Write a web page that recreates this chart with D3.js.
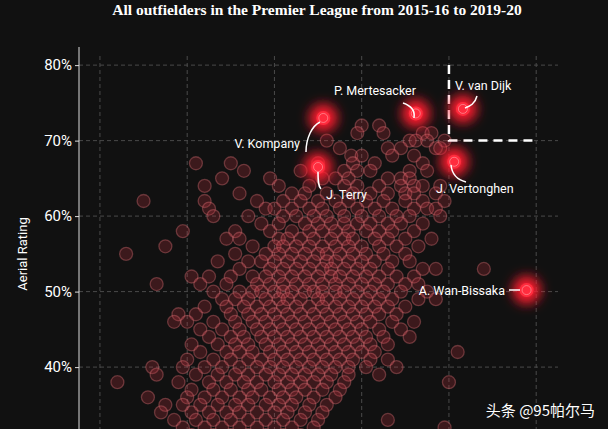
<!DOCTYPE html>
<html><head><meta charset="utf-8">
<script src="https://cdn.jsdelivr.net/npm/d3@7"></script>
<style>body{margin:0;background:#111;}svg{display:block}</style>
</head><body><svg id="c" width="608" height="429"></svg>
<script>
const title = "All outfielders in the Premier League from 2015-16 to 2019-20";
const yTicks = [40, 50, 60, 70, 80];
const xGrid = [1, 2, 3, 4, 5, 6];
// rows: aerial rating (%) -> x positions of players
const rowY = [72,71,70,69,68,67,66,65,64,63,62,61,60,59,58,57,56,55,54,53,52,51,50,49,48,47,46,45,44,43,42,41,40,39,38,37,36,35,34,33,32,31];
const rowX = [
[4.0,4.2],
[3.95,4.25,4.7,4.8],
[3.6,4.55,4.62,4.95,4.75],
[3.75,4.45,4.3,4.85,4.9],
[3.88,4.0,4.35,4.6],
[2.1,2.5,3.5,3.9,4.15,4.7],
[2.65,3.3,3.8,3.95,4.1,4.55,4.75],
[2.4,2.95,3.55,3.7,3.85,4.3,4.45,4.55],
[2.2,3.05,3.4,3.8,3.95,4.2,4.45,4.6,4.7,4.9],
[2.6,3.2,3.35,3.6,3.9,4.1,4.3,4.5,4.6,4.85],
[1.5,2.2,2.8,3.1,3.3,3.5,3.7,3.85,4.05,4.25,4.5,4.7,4.95],
[2.25,2.9,3.0,3.2,3.4,3.55,3.75,3.95,4.15,4.35,4.6,4.75,4.85],
[2.3,2.7,3.1,3.25,3.45,3.6,3.8,4.0,4.2,4.4,4.55,4.9],
[2.85,3.05,3.35,3.5,3.65,3.8,3.95,4.1,4.3,4.45,4.7],
[1.95,2.55,2.95,3.2,3.4,3.55,3.7,3.85,4.05,4.2,4.35,4.6],
[2.45,2.6,3.05,3.15,3.3,3.45,3.65,3.8,3.9,4.15,4.3,4.5,4.8],
[1.75,2.75,3.0,3.1,3.25,3.4,3.55,3.7,3.85,4.0,4.2,4.4,4.65],
[1.3,2.55,2.9,3.05,3.2,3.35,3.5,3.6,3.75,3.9,4.05,4.25,4.5],
[2.35,2.7,2.85,3.0,3.15,3.3,3.45,3.6,3.7,3.85,4.0,4.15,4.35,4.55],
[2.6,2.95,3.1,3.25,3.4,3.55,3.65,3.8,3.95,4.1,4.3,4.7,4.85,5.4],
[2.05,2.25,2.5,2.75,2.9,3.05,3.2,3.35,3.5,3.65,3.75,3.9,4.05,4.2,4.4,4.6],
[1.65,2.15,2.45,2.8,2.95,3.1,3.25,3.4,3.55,3.7,3.85,4.0,4.15,4.3,4.5,4.65],
[2.3,2.6,2.75,2.85,3.0,3.1,3.2,3.35,3.45,3.55,3.7,3.8,3.95,4.1,4.25,4.45,4.75],
[2.4,2.55,2.7,2.9,3.05,3.15,3.3,3.5,3.6,3.75,3.9,4.05,4.2,4.35,4.65,4.85],
[2.2,2.45,2.65,2.8,2.95,3.1,3.25,3.4,3.55,3.7,3.85,4.0,4.15,4.3,4.5],
[1.9,2.1,2.5,2.7,2.85,3.0,3.15,3.3,3.45,3.6,3.75,3.9,4.05,4.2,4.4],
[1.85,2.0,2.3,2.55,2.75,2.9,3.05,3.2,3.35,3.5,3.65,3.8,3.95,4.1,4.35,4.6],
[2.15,2.4,2.6,2.8,2.95,3.1,3.25,3.4,3.55,3.7,3.85,4.0,4.2,4.45],
[2.25,2.5,2.65,2.85,3.0,3.15,3.3,3.45,3.6,3.75,3.9,4.05,4.25,4.55],
[2.05,2.35,2.55,2.7,2.9,3.05,3.2,3.35,3.5,3.65,3.8,3.95,4.1,4.3],
[2.15,2.45,2.6,2.75,2.95,3.1,3.25,3.4,3.55,3.7,3.85,4.0,4.15,5.1],
[2.0,2.3,2.5,2.7,2.85,3.0,3.15,3.3,3.45,3.6,3.75,3.9,4.1,4.3],
[1.6,1.95,2.2,2.4,2.6,2.8,2.95,3.1,3.25,3.4,3.55,3.7,3.85,4.05,4.4],
[1.65,2.1,2.35,2.55,2.7,2.9,3.05,3.2,3.35,3.5,3.65,3.85,4.2],
[1.2,1.9,2.25,2.45,2.65,2.8,3.0,3.15,3.3,3.45,3.6,3.8,5.0],
[2.05,2.3,2.5,2.7,2.85,3.05,3.2,3.35,3.55,3.75],
[1.55,2.0,2.2,2.4,2.6,2.75,2.95,3.1,3.25,3.45,3.7],
[1.75,1.95,2.15,2.35,2.55,2.7,2.9,3.05,3.2,3.4,3.6],
[1.7,2.05,2.25,2.45,2.6,2.8,3.0,3.15,3.35,3.55],
[1.85,2.1,2.3,2.5,2.7,2.9,3.1,3.3,3.5,4.3],
[1.95,2.2,2.4,2.6,2.8,3.0,3.2,3.45,4.95],
[2.05,2.3,2.5,2.7,2.9,3.1,3.3]
];
const starNames = ["V. Kompany","P. Mertesacker","V. van Dijk","J. Terry","J. Vertonghen","A. Wan-Bissaka"];
const starX = [3.56, 4.62, 5.16, 3.5, 5.06, 5.89];
const starY = [73.0, 73.6, 74.2, 66.5, 67.2, 50.2];

const svg = d3.select("#c");
svg.append("rect").attr("width",608).attr("height",429).attr("fill","#111");
const x = d3.scaleLinear().domain([0.76, 6.25]).range([79, 558]);
const y = d3.scaleLinear().domain([82.4, 31.8]).range([47, 429]);

const defs = svg.append("defs");
const f = defs.append("filter").attr("id","glow").attr("x","-100%").attr("y","-100%").attr("width","300%").attr("height","300%");
f.append("feGaussianBlur").attr("stdDeviation",6);

svg.append("text").attr("x",317).attr("y",15).attr("text-anchor","middle")
  .attr("fill","#fff").attr("font-family","Liberation Serif, serif").attr("font-weight","bold")
  .attr("font-size",15.5).text(title);

const grid = svg.append("g");
grid.selectAll(".gy").data(yTicks).join("line").attr("x1",79).attr("x2",558)
  .attr("y1",d=>y(d)).attr("y2",d=>y(d)).attr("stroke","#4a4a4a").attr("stroke-dasharray","4,3");
grid.selectAll(".gx").data(xGrid).join("line").attr("y1",56).attr("y2",429)
  .attr("x1",d=>x(d)).attr("x2",d=>x(d)).attr("stroke","#4a4a4a").attr("stroke-dasharray","4,3");

const yAxis = svg.append("g").attr("transform","translate(79,0)")
  .call(d3.axisLeft(y).tickValues(yTicks).tickFormat(d=>d+"%").tickSize(4));
yAxis.select(".domain").attr("stroke","#ddd").attr("d","M0,47V429");
yAxis.selectAll(".tick line").attr("stroke","#ddd");
yAxis.selectAll("text").attr("fill","#fff").attr("font-family","Roboto, sans-serif").attr("font-size",15);
svg.append("text").attr("transform","translate(27,254) rotate(-90)").attr("text-anchor","middle")
  .attr("fill","#fff").attr("font-family","Roboto, sans-serif").attr("font-size",13).text("Aerial Rating");

const pts = [];
rowY.forEach((v,i)=>rowX[i].forEach(xv=>pts.push([xv,v])));
svg.append("g").selectAll("circle").data(pts).join("circle")
  .attr("cx",d=>x(d[0])).attr("cy",d=>y(d[1])).attr("r",6.5)
  .attr("fill","rgba(190,50,65,0.25)").attr("stroke","rgba(235,120,125,0.35)").attr("stroke-width",1.3);

svg.append("path").attr("d",`M${x(5)},${y(80)}V${y(70)}H${x(6)}`).attr("fill","none")
  .attr("stroke","#fff").attr("stroke-width",2.5).attr("stroke-dasharray","9,6");

const stars = svg.append("g").selectAll("g").data(starNames.map((n,i)=>({n,x:starX[i],y:starY[i]}))).join("g");
stars.append("circle").attr("cx",d=>x(d.x)).attr("cy",d=>y(d.y)).attr("r",14).attr("fill","#ff1a2e").attr("filter","url(#glow)");
stars.append("circle").attr("cx",d=>x(d.x)).attr("cy",d=>y(d.y)).attr("r",7).attr("fill","#ff2c3e");
stars.append("circle").attr("cx",d=>x(d.x)).attr("cy",d=>y(d.y)).attr("r",4.5).attr("fill","none").attr("stroke","rgba(255,190,190,0.5)");

const lab = svg.append("g").attr("fill","#fff").attr("font-family","Roboto, sans-serif").attr("font-size",12.5);
const L = [
 {t:"V. Kompany", x:300, y:148, a:"end", p:"M306,152 C306,138 312,126 320,122"},
 {t:"P. Mertesacker", x:375, y:95, a:"middle", p:"M403,103 C412,106 415,112 414,118"},
 {t:"V. van Dijk", x:455, y:90, a:"start", p:"M477,96 C475,104 470,106 465,108"},
 {t:"J. Terry", x:326, y:199, a:"start", p:"M318,172 C318,180 318,186 321,189"},
 {t:"J. Vertonghen", x:436, y:193, a:"start", p:"M451,165 C452,175 458,180 466,182"},
 {t:"A. Wan-Bissaka", x:505, y:295, a:"end", p:"M509,290 H520"}
];
L.forEach(l=>{
  lab.append("text").attr("x",l.x).attr("y",l.y).attr("text-anchor",l.a).text(l.t);
  svg.append("path").attr("d",l.p).attr("fill","none").attr("stroke","#fff").attr("stroke-width",1.5);
});
svg.append("text").attr("x",595).attr("y",416).attr("text-anchor","end").attr("fill","#fff")
  .attr("font-family","Noto Sans CJK SC, sans-serif").attr("font-size",15).text("头条 @95帕尔马");
</script></body></html>
